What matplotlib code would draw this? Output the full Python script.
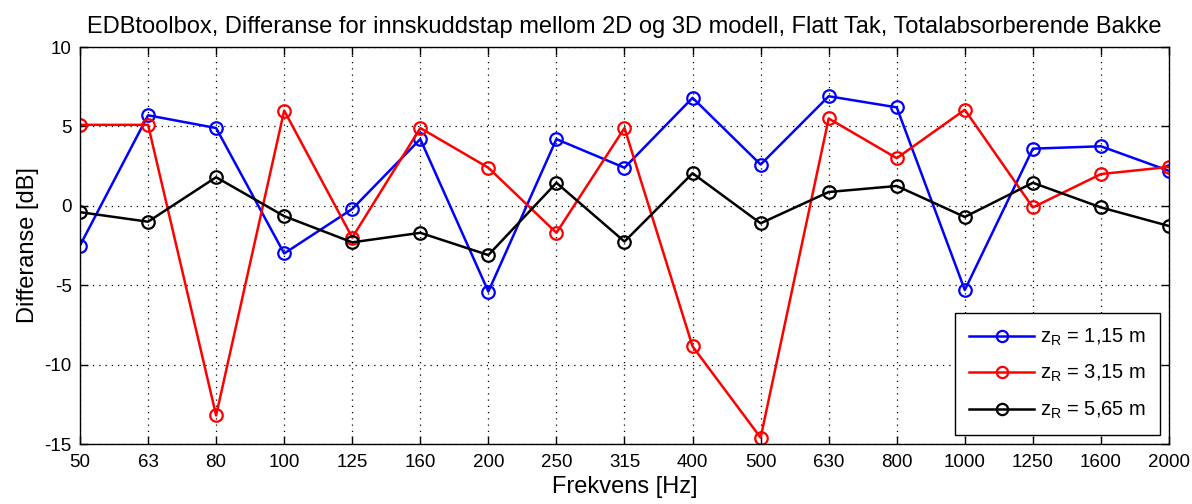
import matplotlib
matplotlib.use("Agg")
import matplotlib.pyplot as plt
import numpy as np

plt.rcParams['font.family'] = ['Liberation Sans', 'DejaVu Sans']
plt.rcParams['mathtext.fontset'] = 'custom'
plt.rcParams['mathtext.rm'] = 'Liberation Sans'
plt.rcParams['mathtext.it'] = 'Liberation Sans'

freq_labels = ['50', '63', '80', '100', '125', '160', '200', '250', '315',
               '400', '500', '630', '800', '1000', '1250', '1600', '2000']

diff_z115 = [-2.5, 5.7, 4.9, -3.0, -0.2, 4.2, -5.4, 4.2, 2.4,
             6.8, 2.6, 6.9, 6.2, -5.3, 3.6, 3.75, 2.2]
diff_z315 = [5.1, 5.1, -13.2, 6.0, -2.0, 4.9, 2.4, -1.7, 4.9,
             -8.85, -14.6, 5.5, 3.0, 6.05, -0.1, 2.0, 2.45]
diff_z565 = [-0.4, -1.0, 1.8, -0.65, -2.3, -1.7, -3.1, 1.45, -2.25,
             2.05, -1.1, 0.87, 1.25, -0.7, 1.45, -0.1, -1.27]

series = [
    (diff_z115, 'blue', r'z$_{\mathrm{R}}$ = 1,15 m'),
    (diff_z315, 'red', r'z$_{\mathrm{R}}$ = 3,15 m'),
    (diff_z565, 'black', r'z$_{\mathrm{R}}$ = 5,65 m'),
]

fig = plt.figure(figsize=(11.92, 5.04), dpi=100)
ax = fig.add_axes([0.0671, 0.119, 0.9136, 0.7877])

x = np.arange(len(freq_labels))
for values, color, label in series:
    ax.plot(x, values, color=color, lw=1.8, marker='o', markersize=9,
            markerfacecolor='none', markeredgewidth=1.6, label=label)

ax.set_xlim(0, len(freq_labels) - 1)
ax.set_ylim(-15, 10)
ax.set_xticks(x)
ax.set_xticklabels(freq_labels)
ax.set_yticks([-15, -10, -5, 0, 5, 10])
ax.set_yticklabels(['-15', '-10', '-5', '0', '5', '10'])
ax.tick_params(direction='in', length=6, width=1, top=True, right=True,
               labelsize=13.5)
ax.tick_params(axis='x', pad=7)
ax.tick_params(axis='y', pad=6)
ax.grid(True, color='black', linestyle=(0, (1, 4)), linewidth=0.9)
for sp in ax.spines.values():
    sp.set_linewidth(1.0)

ax.set_xlabel('Frekvens [Hz]', fontsize=17, labelpad=4)
ax.set_ylabel('Differanse [dB]', fontsize=17, labelpad=4)
ax.set_title('EDBtoolbox, Differanse for innskuddstap mellom 2D og 3D modell, '
             'Flatt Tak, Totalabsorberende Bakke', fontsize=17, pad=10)

leg = ax.legend(loc='lower right', fontsize=14.5, fancybox=False,
                edgecolor='black', framealpha=1, handlelength=3.2,
                handletextpad=0.3, borderaxespad=0.45, labelspacing=0.75,
                borderpad=0.7, markerscale=0.9)
leg.get_frame().set_linewidth(1.0)

fig.savefig('out.png', dpi=100)
